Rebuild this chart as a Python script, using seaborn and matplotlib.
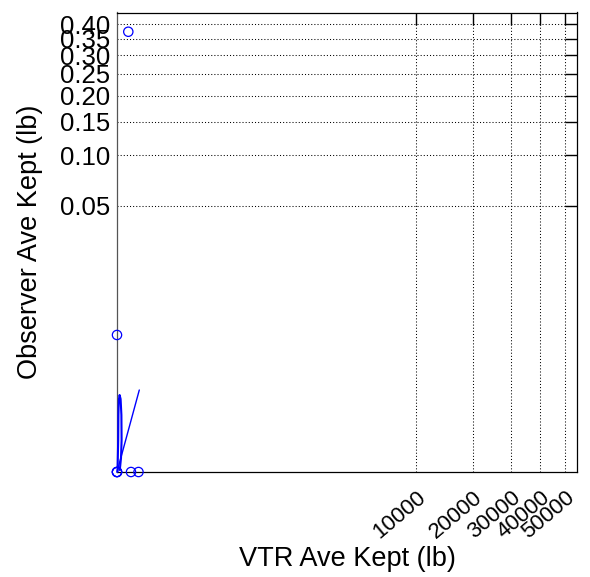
import numpy as np
import pandas as pd
import matplotlib
matplotlib.use("Agg")
import matplotlib.pyplot as plt
import matplotlib.transforms as mtransforms
import seaborn as sns

# ---- data ----
vtr_kept = [0.0, 0.0, 0.0, 0.0, 0.0203, 0.0479, 0.266]
obs_kept = [0.0, 0.0, 0.0, 0.00351, 0.374, 0.0, 0.0]

fit_x = [0.0, 0.308]
fit_y = [0.0, 0.00045]

smooth_x = [7.8e-8, 2.58e-6, 4.79e-6, 1.31e-5, 5.69e-5, 2.09e-4, 4.67e-4, 5.58e-4, 3.19e-4, 7.66e-5]
smooth_y = [0.0, 1.04e-5, 1.05e-4, 2.67e-4, 3.50e-4, 2.83e-4, 1.05e-4, 1.04e-5, 3.8e-7, 1.6e-10]

x_ticks = [10000, 20000, 30000, 40000, 50000]
x_ticklabels = ["10000", "20000", "30000", "40000", "50000"]
y_ticks = [0.05, 0.10, 0.15, 0.20, 0.25, 0.30, 0.35, 0.40]
y_ticklabels = ["0.05", "0.10", "0.15", "0.20", "0.25", "0.30", "0.35", "0.40"]

x_label = "VTR Ave Kept (lb)"
y_label = "Observer Ave Kept (lb)"

# ---- style ----
sns.set_theme(style="white")
plt.rcParams["font.family"] = ["Liberation Sans", "DejaVu Sans"]
plt.rcParams["text.color"] = "black"
plt.rcParams["xtick.color"] = "black"
plt.rcParams["ytick.color"] = "black"
plt.rcParams["xtick.labelcolor"] = "black"
plt.rcParams["ytick.labelcolor"] = "black"

def fwd(v):
    v = np.asarray(v, dtype=float)
    return np.sign(v) * np.abs(v) ** 0.25

def inv(v):
    v = np.asarray(v, dtype=float)
    return np.sign(v) * np.abs(v) ** 4

fig = plt.figure(figsize=(5.9, 5.77), dpi=100)
ax = fig.add_axes([117 / 590, 1 - 472 / 577, 460 / 590, 459.5 / 577])
ax.set_xscale("function", functions=(fwd, inv))
ax.set_yscale("function", functions=(fwd, inv))

blue = "#0000FF"
df = pd.DataFrame({"x": vtr_kept, "y": obs_kept})
sns.scatterplot(data=df, x="x", y="y", ax=ax, marker="o", s=45,
                facecolors="none", edgecolor=blue, linewidth=0.9, zorder=5,
                clip_on=False)
sns.lineplot(x=smooth_x, y=smooth_y, sort=False, estimator=None, ax=ax,
             color=blue, linewidth=1.5, zorder=4, clip_on=False)
sns.lineplot(x=fit_x, y=fit_y, sort=False, estimator=None, ax=ax,
             color=blue, linewidth=1.0, zorder=4, clip_on=False)

ax.set_xlim(0, 55795)
ax.set_ylim(0, 0.4438)

ax.set_xticks(x_ticks)
ax.set_xticklabels(x_ticklabels, rotation=40, ha="right", va="top", fontsize=16)
ax.set_yticks(y_ticks)
ax.set_yticklabels(y_ticklabels, fontsize=18.5)
ax.minorticks_off()

ax.tick_params(axis="x", which="both", bottom=False, top=True, labelbottom=True,
               labeltop=False, direction="in", length=8.5, width=1.0,
               color="black", labelcolor="black", pad=10.5)
ax.tick_params(axis="y", which="both", left=False, right=True, labelleft=True,
               labelright=False, direction="in", length=9, width=1.0,
               color="black", labelcolor="black", pad=5)

offset = mtransforms.ScaledTranslation(14 / 100, 0, fig.dpi_scale_trans)
for lab in ax.get_xticklabels():
    lab.set_transform(lab.get_transform() + offset)

ax.grid(True, color="black", linestyle=(0, (1, 2)), linewidth=0.75)
ax.set_axisbelow(True)

for side in ["top", "right", "bottom"]:
    ax.spines[side].set_color("black")
    ax.spines[side].set_linewidth(0.9)
ax.spines["left"].set_color("#555555")
ax.spines["left"].set_linewidth(0.9)

ax.set_xlabel("")
ax.set_ylabel("")
fig.text(347 / 590, 1 - 566 / 577, x_label, ha="center", va="baseline",
         fontsize=19.5, color="black")
fig.text(37 / 590, 1 - 242 / 577, y_label, ha="center", va="baseline",
         rotation=90, rotation_mode="anchor", fontsize=19.5, color="black")

fig.savefig("out.png", dpi=100)
